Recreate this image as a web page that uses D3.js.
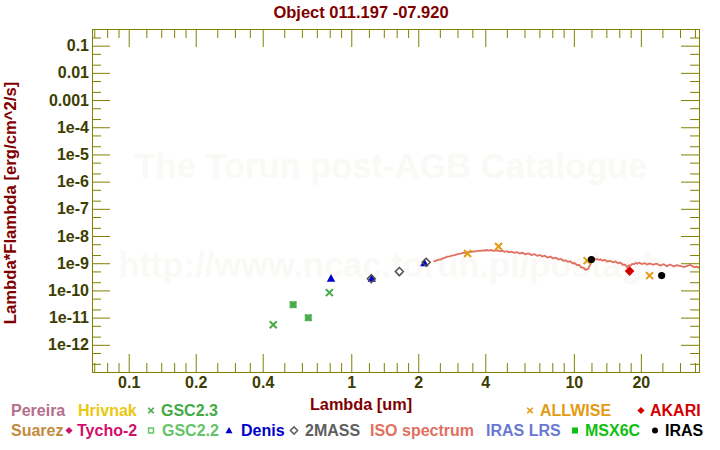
<!DOCTYPE html>
<html><head><meta charset="utf-8">
<script src="https://cdn.jsdelivr.net/npm/d3@7"></script>
<style>
body{margin:0;background:#fff}
svg{display:block}
text{font-family:"Liberation Sans",Arial,Helvetica,sans-serif;font-weight:bold}
</style>
</head><body>
<svg id="c" width="720" height="450"></svg>
<script>
// ---------------- data ----------------
const titleText = "Object 011.197 -07.920";
const xLabelText = "Lambda [um]";
const yLabelText = "Lambda*Flambda [erg/cm^2/s]";
const watermarkLines = ["The Torun post-AGB Catalogue", "http://www.ncac.torun.pl/postagb"];

const xTickMajor = [0.1, 0.2, 0.4, 1, 2, 4, 10, 20];
const xTickMajorLabels = ["0.1", "0.2", "0.4", "1", "2", "4", "10", "20"];
const xTickMinor = [0.07,0.08,0.09,0.12,0.14,0.16,0.18,0.25,0.3,0.35,0.5,0.6,0.7,0.8,0.9,
                    1.2,1.4,1.6,1.8,2.5,3,3.5,5,6,7,8,9,12,14,16,18,25,30,35];
const yTickMajor = [0.1,0.01,0.001,1e-4,1e-5,1e-6,1e-7,1e-8,1e-9,1e-10,1e-11,1e-12];
const yTickMajorLabels = ["0.1","0.01","0.001","1e-4","1e-5","1e-6","1e-7","1e-8","1e-9","1e-10","1e-11","1e-12"];

// photometry (wavelength um, lambda*F_lambda erg/cm^2/s)
const gsc23Wave = [0.446, 0.797];
const gsc23Flux = [5.47e-12, 8.28e-11];
const gsc22Wave = [0.548, 0.641];
const gsc22Flux = [2.99e-11, 9.9e-12];
const denisWave = [0.811, 1.236, 2.13];
const denisFlux = [2.79e-10, 2.74e-10, 1.02e-9];
const tmassWave = [1.231, 1.645, 2.17];
const tmassFlux = [2.70e-10, 4.93e-10, 1.08e-9];
const allwiseWave = [3.33, 4.59, 11.47, 21.9];
const allwiseFlux = [2.27e-9, 4.11e-9, 1.25e-9, 3.51e-10];
const akariWave = [17.8];
const akariFlux = [5.14e-10];
const irasWave = [11.99, 24.8];
const irasFlux = [1.36e-9, 3.51e-10];

// ISO spectrum
const isoWave = [2.34,2.40,2.46,2.52,2.58,2.64,2.70,2.77,2.84,2.91,3.03,3.10,3.18,3.26,3.34,3.43,3.52,3.61,3.70,3.80,3.90,4.00,4.07,4.15,4.25,4.34,4.44,4.55,4.66,4.78,4.90,5.02,5.09,5.25,5.40,5.55,5.72,5.88,6.05,6.25,6.45,6.65,6.85,7.05,7.19,7.40,7.62,7.85,8.05,8.30,8.54,8.75,8.95,9.16,9.40,9.64,9.85,10.05,10.34,10.55,10.80,11.07,11.25,11.47,11.62,11.75,11.87,12.00,12.15,12.28,12.50,12.75,13.00,13.16,13.45,13.75,14.10,14.59,15.00,15.40,15.80,16.19,16.60,17.00,17.35,17.70,18.00,18.27,18.60,19.00,19.25,19.70,20.20,20.80,21.35,22.00,22.70,23.50,24.50,25.30,26.20,27.10,28.10,29.00,30.00,31.20,32.30,33.40,34.60,35.50,36.40,37.20];
const isoFlux = [1.18e-9,1.22e-9,1.36e-9,1.36e-9,1.52e-9,1.60e-9,1.74e-9,1.78e-9,1.92e-9,2.00e-9,2.22e-9,2.26e-9,2.40e-9,2.42e-9,2.54e-9,2.58e-9,2.70e-9,2.72e-9,2.84e-9,2.86e-9,2.96e-9,2.94e-9,3.06e-9,2.92e-9,3.06e-9,2.84e-9,2.92e-9,2.98e-9,2.74e-9,2.86e-9,2.62e-9,2.76e-9,2.52e-9,2.68e-9,2.40e-9,2.56e-9,2.28e-9,2.42e-9,2.14e-9,2.30e-9,2.02e-9,2.16e-9,1.88e-9,2.02e-9,1.76e-9,1.90e-9,1.62e-9,1.76e-9,1.50e-9,1.60e-9,1.36e-9,1.46e-9,1.22e-9,1.28e-9,1.12e-9,1.18e-9,1.00e-9,1.02e-9,0.86e-9,0.86e-9,0.70e-9,0.68e-9,0.58e-9,0.60e-9,0.62e-9,0.80e-9,0.90e-9,1.24e-9,1.36e-9,1.50e-9,1.36e-9,1.44e-9,1.32e-9,1.40e-9,1.24e-9,1.34e-9,1.16e-9,1.22e-9,1.08e-9,1.16e-9,1.00e-9,1.06e-9,0.88e-9,0.88e-9,0.72e-9,0.84e-9,0.82e-9,0.94e-9,0.92e-9,1.04e-9,0.96e-9,1.04e-9,0.94e-9,1.00e-9,0.90e-9,0.98e-9,0.88e-9,0.96e-9,0.82e-9,0.92e-9,0.78e-9,0.90e-9,0.76e-9,0.84e-9,0.80e-9,0.72e-9,0.80e-9,0.86e-9,0.72e-9,0.74e-9,0.70e-9,0.76e-9];

// legend
const legendNames  = ["Pereira","Hrivnak","GSC2.3","ALLWISE","AKARI","Suarez","Tycho-2","GSC2.2","Denis","2MASS","ISO spectrum","IRAS LRS","MSX6C","IRAS"];
const legendColors = ["#b46e8c","#e8c810","#44aa44","#e39b12","#d40000","#c48a3c","#d0106a","#66c466","#0000cc","#606060","#e07060","#6a78d4","#10c010","#000000"];
const legendMarkers= [null,null,"x","x","diamond",null,"diamond","squareOpen","triangle","diamondOpen",null,null,"square","circle"];

// ---------------- layout ----------------
const W = 720, H = 450;
const plot = {left: 92, right: 699, top: 29, bottom: 372};
const legendLayout = [ // [textX, row, markerX]
  [11,0,null],[78,0,null],[161,0,151],[540,0,530],[650,0,641],
  [11,1,null],[77,1,69],[162,1,151],[241,1,229],[305,1,294],[370,1,null],[486,1,null],[585,1,575],[665,1,655]
];
const rowBase = [416, 436];

const svg = d3.select("#c");
const x = d3.scaleLog().domain([0.0684, 36.5]).range([plot.left, plot.right]);
const y = d3.scaleLog().domain([1e-13, 0.41]).range([plot.bottom, plot.top]);

const axisColor = "#808000", tickLabelColor = "#3d3d00", titleColor = "#800000";

// watermark
svg.append("text").attr("x", 391).attr("y", 178).attr("text-anchor","middle")
  .attr("font-size", 34.5).attr("fill","#fbf9f5").text(watermarkLines[0]);
svg.append("text").attr("x", 391).attr("y", 277).attr("text-anchor","middle")
  .attr("font-size", 34.5).attr("fill","#fbf9f5").text(watermarkLines[1]);

// title & labels
svg.append("text").attr("x", 361).attr("y", 18).attr("text-anchor","middle")
  .attr("font-size", 16.5).attr("fill", titleColor).text(titleText);
svg.append("text").attr("x", 361).attr("y", 409.5).attr("text-anchor","middle")
  .attr("font-size", 16.3).attr("fill", titleColor).text(xLabelText);
svg.append("text").attr("transform","translate(16,203) rotate(-90)").attr("text-anchor","middle")
  .attr("font-size", 16.7).attr("fill", titleColor).text(yLabelText);

// y minor ticks
const yTickMinor = [];
for (let e = -13; e <= -1; e++) { [2,5].forEach(m => { const v = m*Math.pow(10,e); if (v <= 0.41) yTickMinor.push(v); }); }

function styleAxis(g){
  g.select(".domain").remove();
  g.selectAll("line").attr("stroke", axisColor);
  g.selectAll("text").attr("fill", tickLabelColor).attr("font-size", 16)
    .attr("font-family",'"Liberation Sans",Arial,sans-serif').attr("font-weight","bold");
}
const axes = svg.append("g");
// bottom
axes.append("g").attr("transform",`translate(0,${plot.bottom})`)
  .call(d3.axisBottom(x).tickValues(xTickMajor).tickSize(-18).tickSizeOuter(0).tickPadding(5)
    .tickFormat((d,i)=>xTickMajorLabels[i])).call(styleAxis);
axes.append("g").attr("transform",`translate(0,${plot.bottom})`)
  .call(d3.axisBottom(x).tickValues(xTickMinor).tickSize(-9).tickSizeOuter(0).tickFormat("")).call(styleAxis);
// top
axes.append("g").attr("transform",`translate(0,${plot.top})`)
  .call(d3.axisTop(x).tickValues(xTickMajor).tickSize(-18).tickSizeOuter(0).tickFormat("")).call(styleAxis);
axes.append("g").attr("transform",`translate(0,${plot.top})`)
  .call(d3.axisTop(x).tickValues(xTickMinor).tickSize(-9).tickSizeOuter(0).tickFormat("")).call(styleAxis);
// left
axes.append("g").attr("transform",`translate(${plot.left},0)`)
  .call(d3.axisLeft(y).tickValues(yTickMajor).tickSize(-18).tickSizeOuter(0).tickPadding(3)
    .tickFormat((d,i)=>yTickMajorLabels[i])).call(styleAxis);
axes.append("g").attr("transform",`translate(${plot.left},0)`)
  .call(d3.axisLeft(y).tickValues(yTickMinor).tickSize(-9).tickSizeOuter(0).tickFormat("")).call(styleAxis);
// right
axes.append("g").attr("transform",`translate(${plot.right},0)`)
  .call(d3.axisRight(y).tickValues(yTickMajor).tickSize(-18).tickSizeOuter(0).tickFormat("")).call(styleAxis);
axes.append("g").attr("transform",`translate(${plot.right},0)`)
  .call(d3.axisRight(y).tickValues(yTickMinor).tickSize(-9).tickSizeOuter(0).tickFormat("")).call(styleAxis);
// frame
svg.append("rect").attr("x", plot.left+0.5).attr("y", plot.top+0.5)
  .attr("width", plot.right-plot.left).attr("height", plot.bottom-plot.top)
  .attr("fill","none").attr("stroke", axisColor).attr("stroke-width",1);

// clip
svg.append("clipPath").attr("id","clip").append("rect")
  .attr("x", plot.left+1).attr("y", plot.top+1).attr("width", plot.right-plot.left-1).attr("height", plot.bottom-plot.top-1);
const data = svg.append("g").attr("clip-path","url(#clip)");

// ISO spectrum line
const iso = isoWave.map((w,i)=>[w, isoFlux[i]]);
data.append("path").datum(iso)
  .attr("d", d3.line().x(d=>x(d[0])).y(d=>y(d[1])))
  .attr("fill","none").attr("stroke","#e07060").attr("stroke-width",1.8);

function drawMarker(g, type, cx, cy, s, color){
  if (type === "x") {
    g.append("path").attr("d",`M${cx-s},${cy-s}L${cx+s},${cy+s}M${cx-s},${cy+s}L${cx+s},${cy-s}`)
      .attr("stroke", color).attr("stroke-width", s > 3 ? 2 : 1.6).attr("fill","none");
  } else if (type === "diamond") {
    g.append("path").attr("d",`M${cx},${cy-s}L${cx+s},${cy}L${cx},${cy+s}L${cx-s},${cy}Z`).attr("fill", color);
  } else if (type === "diamondOpen") {
    g.append("path").attr("d",`M${cx},${cy-s}L${cx+s},${cy}L${cx},${cy+s}L${cx-s},${cy}Z`)
      .attr("fill","none").attr("stroke", color).attr("stroke-width",1.5);
  } else if (type === "triangle") {
    g.append("path").attr("d",`M${cx},${cy-s}L${cx+s},${cy+s*0.8}L${cx-s},${cy+s*0.8}Z`).attr("fill", color);
  } else if (type === "square") {
    g.append("rect").attr("x",cx-s).attr("y",cy-s).attr("width",2*s).attr("height",2*s).attr("fill",color);
  } else if (type === "squareOpen") {
    g.append("rect").attr("x",cx-s+0.75).attr("y",cy-s+0.75).attr("width",2*s-1.5).attr("height",2*s-1.5)
      .attr("fill","none").attr("stroke",color).attr("stroke-width",1.5);
  } else if (type === "circle") {
    g.append("circle").attr("cx",cx).attr("cy",cy).attr("r",s).attr("fill",color);
  }
}

// photometry
gsc23Wave.forEach((w,i)=>drawMarker(data,"x",x(w),y(gsc23Flux[i]),3.5,"#44aa44"));
gsc22Wave.forEach((w,i)=>{
  drawMarker(data,"square",x(w),y(gsc22Flux[i]),3.5,"#5cb85c");
  drawMarker(data,"x",x(w),y(gsc22Flux[i]),3,"#46a846");
});
denisWave.forEach((w,i)=>drawMarker(data,"triangle",x(w),y(denisFlux[i]),4.2,"#0000cc"));
tmassWave.forEach((w,i)=>drawMarker(data,"diamondOpen",x(w),y(tmassFlux[i]),4,"#505050"));
allwiseWave.forEach((w,i)=>drawMarker(data,"x",x(w),y(allwiseFlux[i]),3.5,"#e39b12"));
akariWave.forEach((w,i)=>drawMarker(data,"diamond",x(w),y(akariFlux[i]),4.8,"#d40000"));
irasWave.forEach((w,i)=>drawMarker(data,"circle",x(w),y(irasFlux[i]),3.6,"#000000"));

// legend
const leg = svg.append("g");
legendNames.forEach((n,i)=>{
  const [tx,row,mx] = legendLayout[i];
  const base = rowBase[row];
  leg.append("text").attr("x",tx).attr("y",base).attr("font-size",16).attr("fill",legendColors[i]).text(n);
  if (legendMarkers[i] && mx !== null) {
    const sz = {x:2.8, diamond:3.6, squareOpen:3.2, triangle:3.5, diamondOpen:3.6, square:3, circle:3}[legendMarkers[i]];
    drawMarker(leg, legendMarkers[i], mx, base-5.5, sz, legendColors[i]);
  }
});
</script>
</body></html>
